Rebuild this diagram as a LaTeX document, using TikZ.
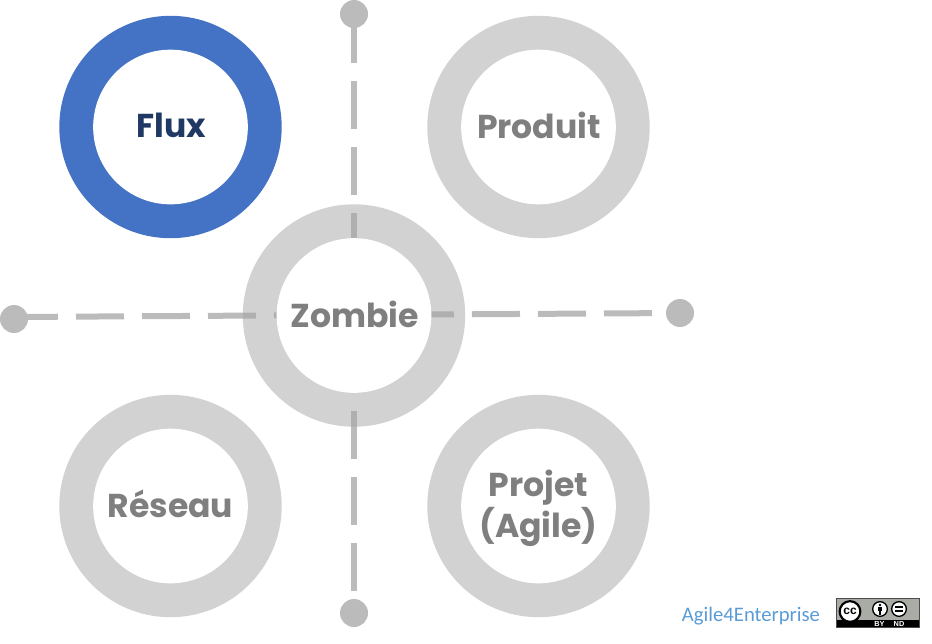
\documentclass[tikz,border=0pt]{standalone}
\usepackage{fontspec}
\setmainfont{Poppins}
\newfontfamily\badgefont{Carlito}
\newfontfamily\badgesans{Liberation Sans}
\definecolor{fluxblue}{HTML}{4472C4}
\definecolor{fluxtext}{HTML}{1F3864}
\definecolor{ringgray}{HTML}{D2D2D2}
\definecolor{textgray}{HTML}{7F7F7F}
\definecolor{axisgray}{HTML}{A5A5A5}
\definecolor{dotgray}{HTML}{BBBBBB}
\definecolor{brandblue}{HTML}{5B9BD5}
\definecolor{badgegray}{HTML}{A9ACA5}
\tikzset{
  disc/.style={circle, fill=ringgray, minimum size=166.8pt, inner sep=0pt},
  hole/.style={circle, fill=white, minimum size=116pt, inner sep=0pt},
  caption/.style={inner sep=0pt, align=center, text=textgray, font=\bfseries\fontsize{24.8}{30.8}\selectfont},
  axis/.style={axisgray, opacity=0.76, line width=4.5pt, dash pattern=on 36pt off 13.5pt},
  dot/.style={circle, fill=dotgray, minimum size=21pt, inner sep=0pt},
  icon/.style={circle, fill=white, draw=black, inner sep=0pt},
  badgetext/.style={white, inner sep=0pt, font=\badgesans\bfseries\fontsize{5.5}{6}\selectfont},
}
\begin{document}
\begin{tikzpicture}[x=0.75pt, y=-0.75pt]
  \useasboundingbox (0,0) rectangle (932,643);

  % discs
  \node[disc, fill=fluxblue] (fluxdisc) at (170.5,127) {};
  \node[disc] (produitdisc) at (538.5,127) {};
  \node[disc] (zombiedisc) at (354,315.5) {};
  \node[disc] (reseaudisc) at (170.5,506) {};
  \node[disc] (projetdisc) at (538.5,506) {};

  % axes
  \coordinate (north) at (354,14);
  \coordinate (south) at (354,613);
  \coordinate (west) at (14,317);
  \coordinate (east) at (680,313);
  \draw[axis, dash phase=48.75pt] (north)--(south);
  \draw[axis, dash phase=3pt] (west)--(east);
  \node[dot] (northdot) at (north) {};
  \node[dot] (southdot) at (south) {};
  \node[dot] (westdot) at (14,319) {};
  \node[dot] (eastdot) at (east) {};

  % holes
  \node[hole] (fluxhole) at (170.5,127) {};
  \node[hole] (produithole) at (538.5,127) {};
  \node[hole] (zombiehole) at (354,315.5) {};
  \node[hole] (reseauhole) at (170.5,506) {};
  \node[hole] (projethole) at (538.5,506) {};

  % labels
  \node[caption, text=fluxtext] (flux) at (171,125) {Flux};
  \node[caption] (produit) at (539,125) {Produit};
  \node[caption] (zombie) at (354.5,314) {Zombie};
  \node[caption] (reseau) at (170.5,504) {Réseau};
  \node[caption] (projet) at (538.5,508.5) {Projet\\(Agile)};

  % footer
  \node[text=brandblue, inner sep=0pt, font=\badgefont\fontsize{15.5}{18}\selectfont] (brand) at (751,616) {Agile4Enterprise};
  \fill[badgegray] (836,598.5) rectangle (919.3,627.7);
  \fill[black] (836,620) rectangle (919.3,627.7);
  \draw[black!70, line width=0.5pt] (836,598.5) rectangle (919.3,627.7);
  \node[icon, minimum size=15.5pt, line width=1.6pt, font=\badgesans\bfseries\fontsize{9}{9}\selectfont] (cc) at (850,611.5) {cc};
  \node[icon, minimum size=11pt, line width=1pt] (by) at (880,609) {};
  \fill[black] (880,605) circle (1.1pt);
  \fill[black] (877.8,607) rectangle (882.2,611);
  \fill[black] (878.8,611) rectangle (881.2,614.5);
  \node[icon, minimum size=11pt, line width=1pt] (nd) at (899,609) {};
  \fill[black] (895,606.2) rectangle (903,608);
  \fill[black] (895,610) rectangle (903,611.8);
  \node[badgetext] (bylabel) at (879.5,624) {BY};
  \node[badgetext] (ndlabel) at (899,624) {ND};
\end{tikzpicture}
\end{document}
